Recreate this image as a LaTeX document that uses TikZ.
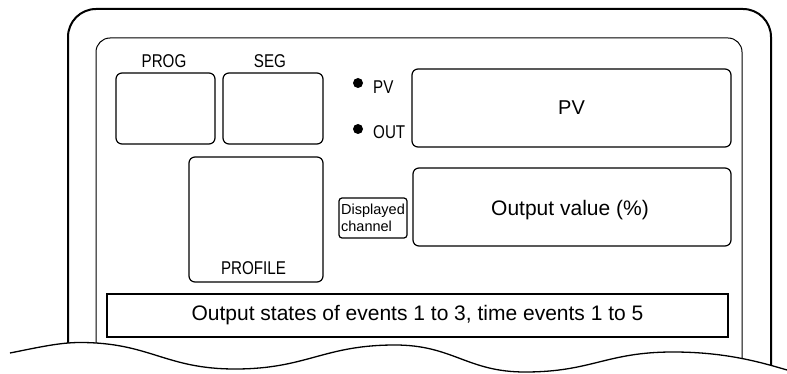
\documentclass[tikz,border=0pt]{standalone}
\usepackage{fontspec}
\setmainfont{Liberation Sans}
\newfontfamily\narrowfont[FakeStretch=0.82]{Liberation Sans}
\begin{document}
\begin{tikzpicture}[x=1pt,y=-1pt,
  rbox/.style={draw,line width=1.2pt,rounded corners=6pt,minimum width=#1,inner sep=0pt},
  narrowlbl/.style={font=\narrowfont\fontsize{18.5}{22}\selectfont,inner sep=0pt},
  bigtxt/.style={font=\fontsize{21}{25}\selectfont},
  ledot/.style={fill=black,circle,inner sep=0pt,minimum size=10pt}]
\useasboundingbox (0,0) rectangle (787,374);
% frames
\draw[line width=2pt,rounded corners=28pt] (68,374) |- (771,9) -- (771,374);
\draw[line width=1pt,rounded corners=14pt] (96,374) |- (742,38) -- (742,374);
% displays
\node[rbox=99pt,minimum height=71pt] (prog) at (165.5,108.5) {};
\node[rbox=100pt,minimum height=71pt] (seg) at (273,108.5) {};
\node[rbox=134pt,minimum height=125pt] (profile) at (256,219.5) {};
\node[rbox=319pt,minimum height=78pt,font=\fontsize{20}{24}\selectfont] (pvbox) at (571.5,108) {PV};
\node[rbox=318pt,minimum height=78pt] (outbox) at (572,207) {};
\node[bigtxt,inner sep=0pt] (outtxt) at (570,210.5) {Output value (\%)};
\node[rbox=68pt,minimum height=40pt,rounded corners=3pt,align=left,font=\fontsize{14.5}{17}\selectfont] (disp) at (373,218) {Displayed\\channel};
\node[draw,line width=1.2pt,minimum width=621pt,minimum height=43pt,inner sep=0pt,bigtxt] (states) at (417.5,315.5) {Output states of events 1 to 3, time events 1 to 5};
% labels
\node[narrowlbl,anchor=base] (proglbl) at (164,67.7) {PROG};
\node[narrowlbl,anchor=base] (seglbl) at (270,67.7) {SEG};
\node[narrowlbl,anchor=base] (proflbl) at (253.5,274) {PROFILE};
\node[ledot] (pvdot) at (358,83) {};
\node[ledot] (outdot) at (358,129) {};
\node[narrowlbl,anchor=base west] (pvlbl) at (373,93.5) {PV};
\node[narrowlbl,anchor=base west] (outlbl) at (373,139) {OUT};
% torn bottom edge
\fill[white] (10,353) .. controls (40,347) and (60,342.5) .. (80,342.5)
  .. controls (150,342.5) and (165,369) .. (235,369)
  .. controls (307,369) and (323,345) .. (395,345)
  .. controls (453,345) and (467,372) .. (525,372)
  .. controls (592,372) and (606,352) .. (673,352)
  .. controls (725,352) and (760,362) .. (787,370)
  -- (787,374) -- (0,374) -- (0,356) -- cycle;
\draw[line width=1.3pt] (10,353) .. controls (40,347) and (60,342.5) .. (80,342.5)
  .. controls (150,342.5) and (165,369) .. (235,369)
  .. controls (307,369) and (323,345) .. (395,345)
  .. controls (453,345) and (467,372) .. (525,372)
  .. controls (592,372) and (606,352) .. (673,352)
  .. controls (725,352) and (760,362) .. (787,370);
\end{tikzpicture}
\end{document}
